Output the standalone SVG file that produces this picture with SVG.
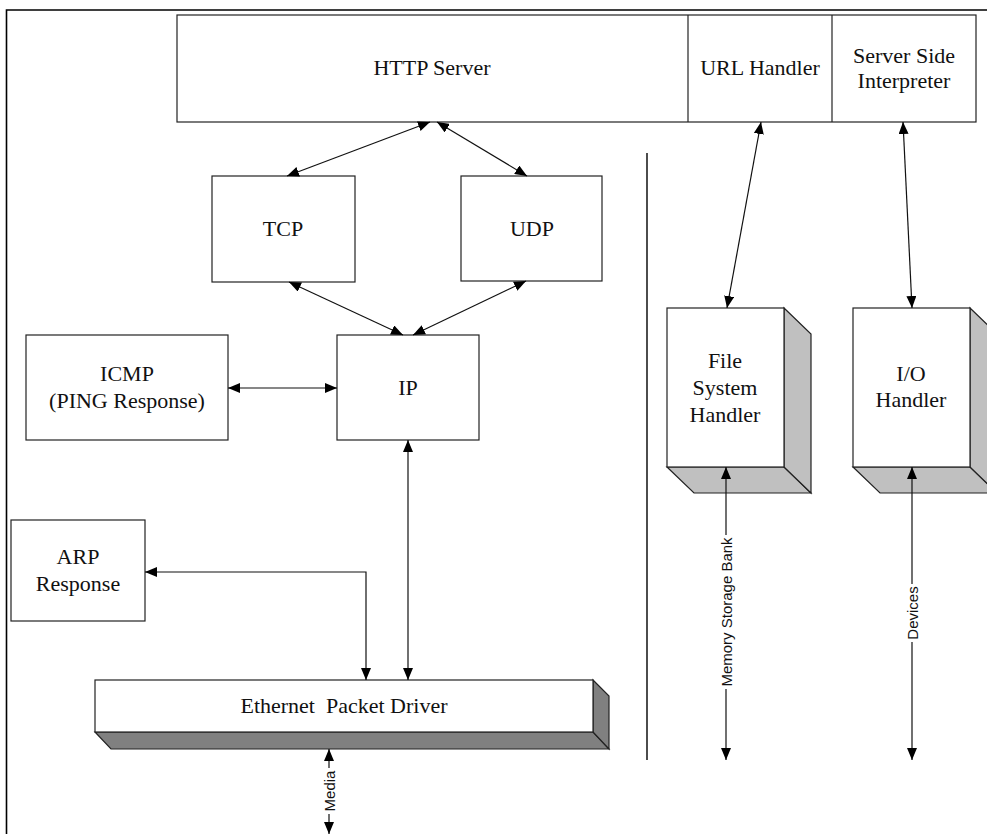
<svg xmlns="http://www.w3.org/2000/svg" width="987" height="834" viewBox="0 0 987 834">
<style>
.box{fill:#fff;stroke:#222;stroke-width:1.2}
.t{font-family:"Liberation Serif","Times New Roman",serif;font-size:22px;fill:#111;text-anchor:middle}
.s{font-family:"Liberation Sans",Arial,sans-serif;font-size:15px;fill:#111;text-anchor:middle;dominant-baseline:central}
.c{fill:none;stroke:#111;stroke-width:1.2}
.shadeL{fill:#c0c0c0;stroke:#222;stroke-width:1.2}
.shadeD{fill:#808080;stroke:#222;stroke-width:1.2}
</style>
<defs>
<marker id="ah" markerUnits="userSpaceOnUse" markerWidth="12" markerHeight="10" refX="12" refY="5" orient="auto-start-reverse" viewBox="0 0 12 10">
<path d="M0,0 L12,5 L0,10 z" fill="#000"/>
</marker>
</defs>
<rect width="987" height="834" fill="#fff"/>
<g id="frame">
<path d="M6.5,834 V10 H987" fill="none" stroke="#000" stroke-width="1.6"/>
<line x1="647" y1="153" x2="647" y2="760" stroke="#000" stroke-width="1.4"/>
</g>
<g id="http-server">
<rect class="box" x="177" y="15" width="799" height="107"/>
<line x1="688" y1="15" x2="688" y2="122" stroke="#222" stroke-width="1.2"/>
<line x1="832" y1="15" x2="832" y2="122" stroke="#222" stroke-width="1.2"/>
<text class="t" x="432" y="75">HTTP Server</text>
</g>
<g id="url-handler">
<text class="t" x="760" y="75">URL Handler</text>
</g>
<g id="ssi">
<text class="t" x="904" y="63">Server Side</text>
<text class="t" x="904" y="88">Interpreter</text>
</g>
<g id="tcp">
<rect class="box" x="212" y="176" width="143" height="106"/>
<text class="t" x="283" y="236">TCP</text>
</g>
<g id="udp">
<rect class="box" x="461" y="176" width="141" height="105"/>
<text class="t" x="532" y="236">UDP</text>
</g>
<g id="icmp">
<rect class="box" x="26" y="335" width="202" height="105"/>
<text class="t" x="127" y="381">ICMP</text>
<text class="t" x="127" y="408">(PING Response)</text>
</g>
<g id="ip">
<rect class="box" x="337" y="335" width="142" height="105"/>
<text class="t" x="408" y="395">IP</text>
</g>
<g id="arp">
<rect class="box" x="11" y="520" width="134" height="101"/>
<text class="t" x="78" y="564">ARP</text>
<text class="t" x="78" y="591">Response</text>
</g>
<g id="ethernet">
<path class="shadeD" d="M95,732 L111,749 L609,749 L593,732 z"/>
<path class="shadeD" d="M593,680 L609,696 L609,749 L593,732 z"/>
<rect class="box" x="95" y="680" width="498" height="52"/>
<text class="t" x="344" y="713" xml:space="preserve">Ethernet  Packet Driver</text>
</g>
<g id="fs-handler">
<path class="shadeL" d="M667,467 L694,493 L811,493 L784,467 z"/>
<path class="shadeL" d="M784,308 L811,334 L811,493 L784,467 z"/>
<rect class="box" x="667" y="308" width="117" height="159"/>
<text class="t" x="725" y="368">File</text>
<text class="t" x="725" y="395">System</text>
<text class="t" x="725" y="422">Handler</text>
</g>
<g id="io-handler">
<path class="shadeL" d="M853,467 L880,493 L997,493 L970,467 z"/>
<path class="shadeL" d="M970,308 L997,334 L997,493 L970,467 z"/>
<rect class="box" x="853" y="308" width="117" height="159"/>
<text class="t" x="911" y="381">I/O</text>
<text class="t" x="911" y="407">Handler</text>
</g>
<g id="connectors">
<line class="c" x1="430" y1="122" x2="287" y2="176" marker-start="url(#ah)" marker-end="url(#ah)"/>
<line class="c" x1="437" y1="122" x2="527" y2="176" marker-start="url(#ah)" marker-end="url(#ah)"/>
<line class="c" x1="289" y1="282" x2="403" y2="335" marker-start="url(#ah)" marker-end="url(#ah)"/>
<line class="c" x1="526" y1="281" x2="413" y2="335" marker-start="url(#ah)" marker-end="url(#ah)"/>
<line class="c" x1="228" y1="388" x2="337" y2="388" marker-start="url(#ah)" marker-end="url(#ah)"/>
<line class="c" x1="408" y1="440" x2="408" y2="680" marker-start="url(#ah)" marker-end="url(#ah)"/>
<path class="c" d="M145,572 H366 V680" marker-start="url(#ah)" marker-end="url(#ah)"/>
<line class="c" x1="761" y1="122" x2="727" y2="308" marker-start="url(#ah)" marker-end="url(#ah)"/>
<line class="c" x1="903" y1="122" x2="912" y2="308" marker-start="url(#ah)" marker-end="url(#ah)"/>
<line class="c" x1="329" y1="749" x2="329" y2="768" marker-start="url(#ah)"/>
<line class="c" x1="329" y1="814" x2="329" y2="834" marker-end="url(#ah)"/>
<text class="s" transform="translate(329,791) rotate(-90)">Media</text>
<line class="c" x1="726" y1="467" x2="726" y2="535" marker-start="url(#ah)" stroke="#444"/>
<line class="c" x1="726" y1="689" x2="726" y2="760" marker-end="url(#ah)" stroke="#444"/>
<text class="s" transform="translate(726,612) rotate(-90)">Memory Storage Bank</text>
<line class="c" x1="912" y1="467" x2="912" y2="584" marker-start="url(#ah)"/>
<line class="c" x1="912" y1="642" x2="912" y2="760" marker-end="url(#ah)"/>
<text class="s" transform="translate(912,613) rotate(-90)">Devices</text>
</g>
</svg>
